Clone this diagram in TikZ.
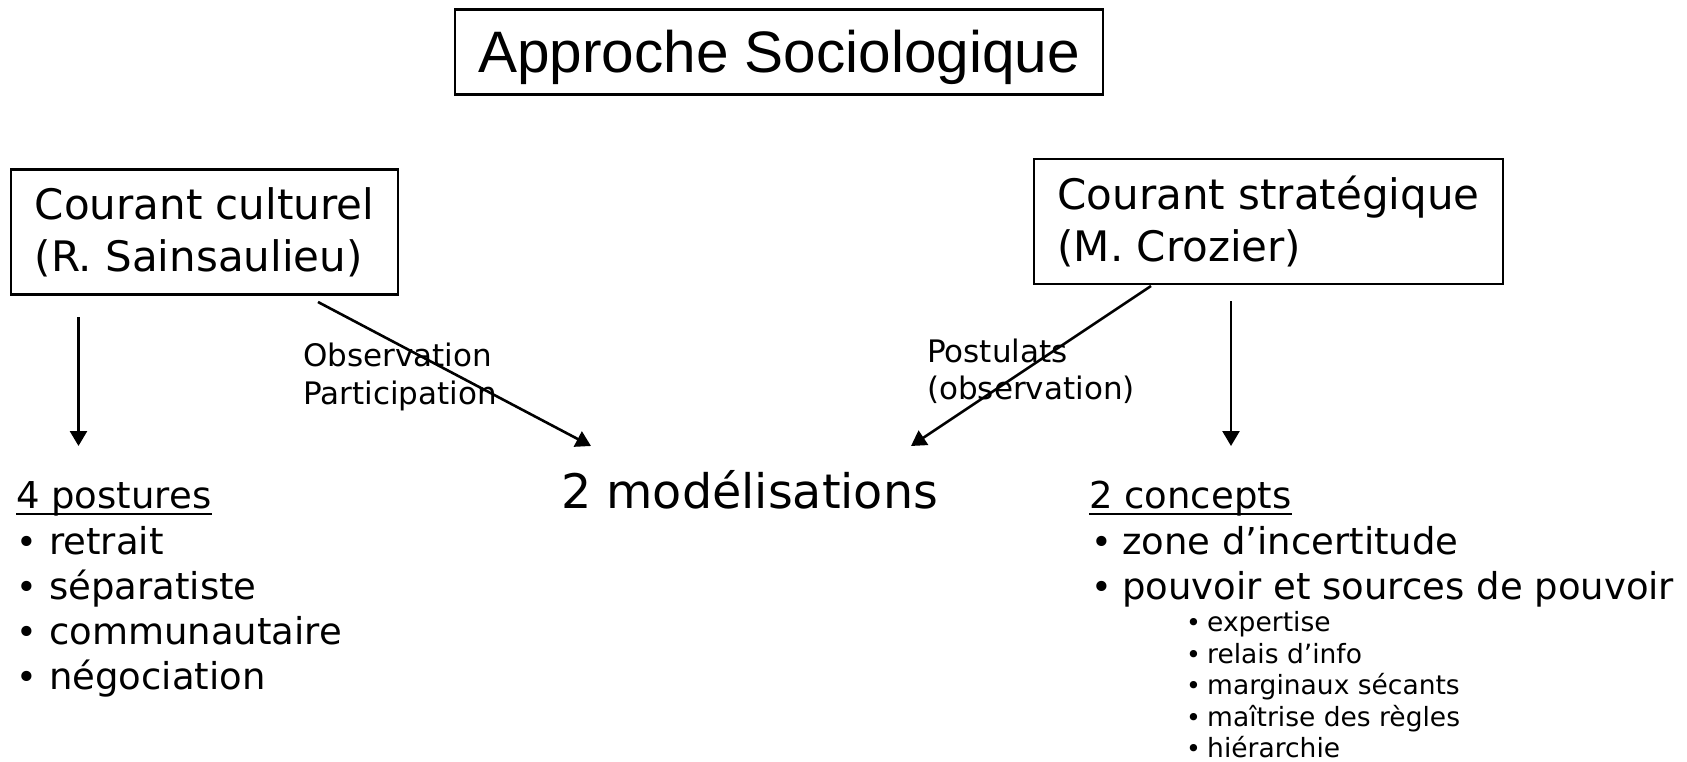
\documentclass[tikz,border=0pt]{standalone}
\usepackage{fontspec}
\setmainfont{DejaVu Sans}
\newfontfamily\titlefont{Liberation Sans}
\usetikzlibrary{arrows.meta}

% bullet followed by a fixed indent
\newcommand{\bul}[1]{\makebox[#1][l]{\scalebox{0.95}{•}}}

\begin{document}
\begin{tikzpicture}[x=1pt,y=-1pt,
  framebox/.style={draw,line width=2.7pt,inner sep=0pt,align=left},
  conn/.style={line width=2.6pt,-{Triangle[length=15pt,width=17pt]}},
  txt/.style={anchor=base west,inner sep=0pt},
  boxfont/.style={font=\fontsize{42}{52}\selectfont},
  headfont/.style={font=\fontsize{37}{44}\selectfont},
  itemfont/.style={font=\fontsize{37}{44}\selectfont},
  subfont/.style={font=\fontsize{26.5}{31}\selectfont},
  lblfont/.style={font=\fontsize{31}{38}\selectfont}]

\useasboundingbox (0,0) rectangle (1687,762);

% title
\node[framebox,minimum width=648pt,minimum height=85pt,text height=41pt,text depth=0pt,
      font=\titlefont\fontsize{58.5}{66}\selectfont] (title) at (779,52)
  {Approche Sociologique};

% the two schools
\node[framebox,boxfont,minimum width=387pt,minimum height=125pt] (cult) at (204.5,232)
  {Courant culturel\\(R. Sainsaulieu)};
\node[framebox,boxfont,minimum width=469pt,minimum height=125pt] (strat) at (1268.5,221.5)
  {Courant stratégique\\(M. Crozier)};

% arrow end points
\coordinate (c1s) at (78.5,317);
\coordinate (c1e) at (78.5,446);
\coordinate (c2s) at (318,302);
\coordinate (c2e) at (591,446);
\coordinate (s1s) at (1151,286);
\coordinate (s1e) at (911,446);
\coordinate (s2s) at (1231,301);
\coordinate (s2e) at (1231,446);

% arrow labels
\node[txt,lblfont] (obs)  at (303,366) {Observation};
\node[txt,lblfont] (part) at (303,404) {Participation};
\node[txt,lblfont] (post) at (927,362) {Postulats};
\node[txt,lblfont] (pobs) at (927,399) {(observation)};

\draw[conn] (c1s) -- (c1e);
\draw[conn] (c2s) -- (c2e);
\draw[conn] (s1s) -- (s1e);
\draw[conn] (s2s) -- (s2e);

% centre
\node[txt,font=\fontsize{47.6}{56}\selectfont] (model) at (561,508) {2 modélisations};

% left list
\node[txt,headfont] (postures) at (16,508) {4 postures};
\draw[line width=2.4pt] ([yshift=-6pt]postures.base west) -- ([yshift=-6pt]postures.base east);
\node[txt,itemfont] (p1) at (16,554) {\bul{33pt}retrait};
\node[txt,itemfont] (p2) at (16,599) {\bul{33pt}séparatiste};
\node[txt,itemfont] (p3) at (16,644) {\bul{33pt}communautaire};
\node[txt,itemfont] (p4) at (16,689) {\bul{33pt}négociation};

% right list
\node[txt,headfont] (concepts) at (1089,508) {2 concepts};
\draw[line width=2.4pt] ([yshift=-6pt]concepts.base west) -- ([yshift=-6pt]concepts.base east);
\node[txt,itemfont] (k1) at (1091,554) {\bul{31pt}zone d’incertitude};
\node[txt,itemfont] (k2) at (1091,599) {\bul{31pt}pouvoir et sources de pouvoir};
\node[txt,subfont] (s1) at (1186,631.5) {\bul{21pt}expertise};
\node[txt,subfont] (s2) at (1186,663) {\bul{21pt}relais d’info};
\node[txt,subfont] (s3) at (1186,694.5) {\bul{21pt}marginaux sécants};
\node[txt,subfont] (s4) at (1186,726) {\bul{21pt}maîtrise des règles};
\node[txt,subfont] (s5) at (1186,757) {\bul{21pt}hiérarchie};
\end{tikzpicture}
\end{document}
